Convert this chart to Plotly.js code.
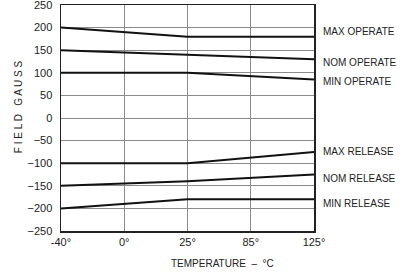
<!DOCTYPE html>
<html>
<head>
<meta charset="utf-8">
<script src="https://cdn.plot.ly/plotly-3.0.1.min.js"></script>
<style>html,body{margin:0;padding:0;background:#fff;}#chart{width:406px;height:280px;}</style>
</head>
<body>
<div id="chart"></div>
<script>
// Temperature axis (the original scale is drawn with uneven spacing)
const tempTicks = ['-40°', '0°', '25°', '85°', '125°'];
// Break points where each curve is read
const tempPoints = ['-40°', '25°', '125°'];
const seriesNames = ['MAX OPERATE', 'NOM OPERATE', 'MIN OPERATE', 'MAX RELEASE', 'NOM RELEASE', 'MIN RELEASE'];
const maxOperate = [200, 180, 180];
const nomOperate = [150, 140, 130];
const minOperate = [100, 100, 85];
const maxRelease = [-100, -100, -75];
const nomRelease = [-150, -140, -125];
const minRelease = [-200, -180, -180];
const yTicks = [250, 200, 150, 100, 50, 0, -50, -100, -150, -200, -250];
const yTickText = ['250', '200', '150', '100', '50', '0', '−50', '−100', '−150', '−200', '−250'];
// label vertical offsets (gauss) relative to line end, for readability
const labelOffsets = [12, -8, -4, 2, -8, -10];

const allSeries = [maxOperate, nomOperate, minOperate, maxRelease, nomRelease, minRelease];
const traces = allSeries.map((vals, i) => ({
  type: 'scatter', mode: 'lines', x: tempPoints, y: vals, name: seriesNames[i],
  line: {color: '#111', width: 2}, showlegend: false, hoverinfo: 'skip'
}));

const fontFam = 'Liberation Sans, Arial, sans-serif';
const annotations = allSeries.map((vals, i) => ({
  xref: 'paper', yref: 'y', x: 1, y: vals[vals.length - 1] + labelOffsets[i],
  xanchor: 'left', yanchor: 'middle', xshift: 7, showarrow: false,
  text: seriesNames[i], font: {family: fontFam, size: 10, color: '#222'}
}));
annotations.push({
  xref: 'paper', yref: 'paper', x: 0.64, y: 0, yshift: -40, xanchor: 'center', yanchor: 'bottom',
  showarrow: false, text: 'TEMPERATURE  –  °C', font: {family: fontFam, size: 10, color: '#222'}
});
annotations.push({
  xref: 'paper', yref: 'paper', x: 0, xshift: -35, y: 0.55, xanchor: 'right', yanchor: 'middle',
  textangle: -90, showarrow: false, text: 'F I E L D &nbsp; G A U S S',
  font: {family: fontFam, size: 10, color: '#222'}
});

const layout = {
  width: 406, height: 280,
  margin: {l: 61, r: 92, t: 5, b: 49},
  paper_bgcolor: '#fff', plot_bgcolor: '#fff',
  font: {family: fontFam, color: '#222', size: 11},
  xaxis: {
    type: 'category', categoryorder: 'array', categoryarray: tempTicks,
    range: [0, 4], showgrid: true, gridcolor: '#8a8a8a', gridwidth: 1,
    showline: true, linecolor: '#222', linewidth: 1.5, mirror: true,
    ticks: '', tickfont: {size: 11, color: '#222'}, zeroline: false
  },
  yaxis: {
    range: [-250, 250], tickvals: yTicks, ticktext: yTickText,
    showgrid: true, gridcolor: '#8a8a8a', gridwidth: 1,
    showline: true, linecolor: '#222', linewidth: 1.5, mirror: true,
    ticks: '', ticklabelstandoff: 5, ticklabeloverflow: 'allow', tickfont: {size: 11, color: '#222'}, zeroline: false
  },
  annotations: annotations
};

Plotly.newPlot('chart', traces, layout, {displayModeBar: false, staticPlot: true});
</script>
</body>
</html>
